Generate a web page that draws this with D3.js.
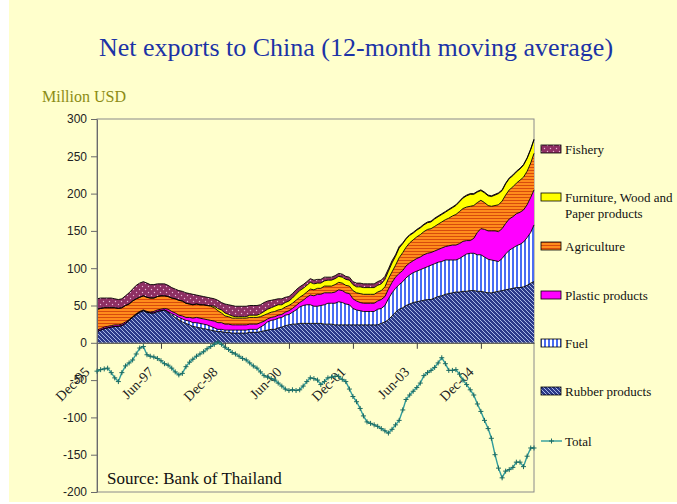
<!DOCTYPE html>
<html>
<head>
<meta charset="utf-8">
<script src="https://cdn.jsdelivr.net/npm/d3@7"></script>
<style>
  html, body { margin: 0; padding: 0; background: #ffffff; }
  svg { display: block; }
</style>
</head>
<body>
<svg id="chart" width="677" height="504"></svg>
<script>
// Monthly 12-month moving averages, Dec-95 onward (million USD)
const firstMonth = "1995-12";

const rubber = [
  15,17,19,20,21,22,22,23,26,30, 34,38,41,43,41,40,40,42,43,44,
  41,37,34,31,28,26,24,22,21,20, 19,18,17,16,15,15,14,14,13,13,
  13,13,13,14,14,14,15,16,17,18, 18,20,21,23,24,25,25,26,26,26,
  26,26,26,26,25,25,25,24,24,24, 24,24,24,24,24,24,24,24,24,24,
  26,28,31,36,41,45,47,50,52,54, 55,56,57,58,58,60,62,63,65,66,
  67,68,68,69,69,70,70,69,69,68, 67,67,68,69,70,71,72,73,74,74,
  75,77,80,82
];
const fuel = [
  0,0,0,0,0,0,0,0,0,0, 0,0,0,0,0,0,0,0,0,0,
  1,2,3,3,4,4,5,5,6,6, 6,6,5,4,3,3,3,3,4,4,
  4,4,4,4,4,4,6,8,11,12, 13,13,13,14,14,16,19,22,24,25,
  25,23,23,24,26,28,28,29,31,30, 28,27,22,20,19,18,18,18,18,21,
  20,22,28,31,32,33,35,37,39,40, 41,42,43,44,46,46,46,46,46,45,
  44,43,45,47,50,50,50,49,49,47, 45,44,42,40,43,48,52,54,56,58,
  60,64,68,76
];
const plastic = [
  2,2,2,2,2,2,2,2,2,1, 1,1,1,1,1,1,2,2,2,2,
  3,3,3,3,4,4,5,6,7,7, 7,7,8,9,9,9,8,8,7,7,
  7,7,7,7,7,7,6,5,4,4, 4,4,4,4,5,5,6,6,7,10,
  13,14,16,15,16,14,14,15,16,16, 15,15,13,12,11,11,11,11,11,11,
  12,12,13,14,15,15,15,16,16,16, 17,17,18,18,17,17,17,18,18,19,
  20,20,20,20,18,17,20,30,35,37, 38,39,40,40,40,41,42,42,43,43,
  43,44,47,47
];
const agriculture = [
  28,27,26,25,24,23,22,22,22,21, 21,20,19,19,19,19,18,18,18,17,
  17,18,19,20,20,19,18,18,18,18, 19,19,19,18,16,13,11,10,9,9,
  9,9,9,9,9,9,8,8,7,7, 7,7,7,7,7,7,7,7,7,7,
  8,8,8,8,9,9,9,10,10,10, 10,10,11,11,12,12,12,12,12,12,
  12,13,14,14,16,21,24,25,27,28, 29,30,31,32,32,33,34,35,36,37,
  39,41,43,44,45,46,44,40,38,36, 34,33,34,36,37,38,39,40,41,43,
  44,45,46,49
];
const furniture = [
  0,0,0,0,0,0,0,0,0,0, 0,0,0,0,0,0,0,0,0,0,
  0,0,0,0,0,0,0,0,0,0, 0,0,1,2,3,4,4,3,3,2,
  2,2,2,3,3,3,4,5,6,6, 7,7,6,6,6,7,8,9,9,9,
  9,8,7,7,7,8,8,8,8,8, 8,8,8,8,9,9,9,9,9,9,
  9,10,10,12,12,13,12,11,10,9, 9,9,9,9,9,10,10,10,10,11,
  11,12,13,14,15,16,15,14,13,13, 13,13,14,15,14,15,15,15,15,15,
  16,17,18,18
];
const fishery = [
  14,14,13,13,13,12,12,12,13,15, 16,18,19,19,19,18,18,17,16,16,
  15,14,13,13,13,14,14,14,12,12, 11,11,10,10,11,10,12,13,14,14,
  14,14,14,13,13,13,12,12,11,10, 9,8,8,7,6,6,6,5,5,5,
  5,5,5,5,5,4,4,4,4,4, 4,4,4,5,5,5,5,5,5,5,
  5,4,3,3,2,2,1,1,1,1, 1,1,1,1,1,1,1,1,1,1,
  1,1,1,1,1,1,1,1,1,1, 1,1,1,1,1,1,1,1,1,1,
  1,1,1,1
];
const total = [
  -38,-36,-35,-34,-40,-47,-52,-40,-31,-27, -23,-15,-7,-5,-16,-18,-19,-21,-24,-28,
  -30,-34,-39,-43,-41,-32,-26,-22,-18,-15, -12,-8,-5,-2,1,-2,-6,-9,-13,-15,
  -18,-21,-23,-27,-31,-34,-39,-44,-46,-48, -50,-54,-58,-62,-64,-63,-64,-63,-58,-52,
  -47,-48,-50,-56,-52,-47,-46,-45,-45,-49, -52,-62,-72,-79,-88,-98,-106,-108,-110,-112,
  -115,-118,-121,-116,-110,-104,-90,-76,-70,-65, -60,-54,-44,-40,-37,-33,-27,-20,-28,-37,
  -37,-36,-42,-50,-56,-63,-70,-82,-92,-104, -115,-128,-150,-168,-181,-172,-170,-167,-160,-160,
  -166,-152,-141,-141
];

const xTickLabels = ["Dec-95","Jun-97","Dec-98","Jun-00","Dec-01","Jun-03","Dec-04"];
const yTickValues = [-200,-150,-100,-50,0,50,100,150,200,250,300];

// stacking order, bottom to top
const layerKeys   = ["rubber","fuel","plastic","agriculture","furniture","fishery"];
const layerValues = { rubber, fuel, plastic, agriculture, furniture, fishery };
const legendItems = [
  { key: "fishery",     lines: ["Fishery"] },
  { key: "furniture",   lines: ["Furniture, Wood and", "Paper products"] },
  { key: "agriculture", lines: ["Agriculture"] },
  { key: "plastic",     lines: ["Plastic products"] },
  { key: "fuel",        lines: ["Fuel"] },
  { key: "rubber",      lines: ["Rubber products"] },
  { key: "total",       lines: ["Total"] }
];

// ---------------------------------------------------------------------------
const W = 677, H = 504;
const plot = { left: 97, right: 534, top: 119, bottom: 492 };
const bg = "#ffffcc";
const serif = "'Liberation Serif', 'Times New Roman', serif";
const sans = "'Liberation Sans', Arial, sans-serif";

const svg = d3.select("#chart");
const parseMonth = d3.timeParse("%Y-%m");
const start = parseMonth(firstMonth);
const months = total.map((_, i) => d3.timeMonth.offset(start, i));

const x = d3.scaleTime()
  .domain([start, d3.timeMonth.offset(start, total.length - 1)])
  .range([plot.left, plot.right]);
const y = d3.scaleLinear().domain([-200, 300]).range([plot.bottom, plot.top]);

// background
svg.append("rect").attr("width", W).attr("height", H).attr("fill", bg);
svg.append("rect").attr("x", 0).attr("y", 0).attr("width", 9).attr("height", H).attr("fill", "#ffffff");
svg.append("rect").attr("x", 0).attr("y", H - 2).attr("width", W).attr("height", 2).attr("fill", "#ffffff");

// fill patterns
const defs = svg.append("defs");
function pattern(id, w, h) {
  return defs.append("pattern").attr("id", id)
    .attr("patternUnits", "userSpaceOnUse").attr("width", w).attr("height", h);
}
let p = pattern("hatchRubber", 4, 4);
p.append("rect").attr("width", 4).attr("height", 4).attr("fill", "#2c3a8a");
p.append("path").attr("d", "M-1,3 l2,2 M0,0 l4,4 M3,-1 l2,2")
  .attr("stroke", "#a9b8e6").attr("stroke-width", 1);

p = pattern("stripeFuel", 4, 4);
p.append("rect").attr("width", 4).attr("height", 4).attr("fill", "#ffffff");
p.append("rect").attr("width", 2).attr("height", 4).attr("fill", "#4a6cf2");

p = pattern("stripeAgri", 4, 3);
p.append("rect").attr("width", 4).attr("height", 3).attr("fill", "#ff8c1c");
p.append("rect").attr("y", 2).attr("width", 4).attr("height", 1).attr("fill", "#d84b0c");

p = pattern("dotsFishery", 6, 6);
p.append("rect").attr("width", 6).attr("height", 6).attr("fill", "#8e2f63");
p.append("circle").attr("cx", 1.5).attr("cy", 1.5).attr("r", 0.7).attr("fill", "#e9b6d6");
p.append("circle").attr("cx", 4.5).attr("cy", 4.5).attr("r", 0.7).attr("fill", "#e9b6d6");

const fills = {
  rubber: "url(#hatchRubber)",
  fuel: "url(#stripeFuel)",
  plastic: "#ff00ff",
  agriculture: "url(#stripeAgri)",
  furniture: "#ffff00",
  fishery: "url(#dotsFishery)"
};

// plot frame
svg.append("rect")
  .attr("x", plot.left).attr("y", plot.top)
  .attr("width", plot.right - plot.left).attr("height", plot.bottom - plot.top)
  .attr("fill", bg).attr("stroke", "#8a8a8a").attr("stroke-width", 1);

// stacked areas
const rows = months.map((m, i) => {
  const r = { date: m };
  layerKeys.forEach(k => r[k] = layerValues[k][i]);
  return r;
});
const stacked = d3.stack().keys(layerKeys)(rows);

const area = d3.area()
  .x(d => x(d.data.date))
  .y0(d => y(d[0]))
  .y1(d => y(d[1]));
const topLine = d3.line()
  .x(d => x(d.data.date))
  .y(d => y(d[1]));

const gAreas = svg.append("g");
gAreas.selectAll("path.layer").data(stacked).join("path")
  .attr("class", "layer")
  .attr("d", area)
  .attr("fill", d => fills[d.key]);
gAreas.selectAll("path.edge").data(stacked).join("path")
  .attr("class", "edge")
  .attr("d", topLine)
  .attr("fill", "none")
  .attr("stroke", "#000000")
  .attr("stroke-width", 0.9);

// category axis along zero
const tickDates = xTickLabels.map(d3.timeParse("%b-%y"));
const gx = svg.append("g").attr("transform", `translate(0,${y(0)})`)
  .call(d3.axisBottom(x).tickValues(tickDates).tickSize(6).tickSizeOuter(0)
    .tickFormat((d, i) => xTickLabels[i]));
gx.select(".domain").attr("stroke", "#404040");
gx.selectAll(".tick line").attr("stroke", "#404040");
gx.selectAll(".tick text")
  .attr("x", 0).attr("y", 0).attr("dy", 0)
  .attr("text-anchor", "end")
  .attr("transform", "translate(-7,30) rotate(-45)")
  .attr("font-family", serif)
  .attr("font-size", 14)
  .attr("fill", "#222");

// value axis
const gy = svg.append("g").attr("transform", `translate(${plot.left},0)`)
  .call(d3.axisLeft(y).tickValues(yTickValues).tickSize(6).tickSizeOuter(0).tickPadding(4)
    .tickFormat(d => String(d)));
gy.select(".domain").attr("stroke", "#6a6a6a");
gy.selectAll(".tick line").attr("stroke", "#6a6a6a");
gy.selectAll(".tick text")
  .attr("font-family", sans)
  .attr("font-size", 12)
  .attr("fill", "#222");

// total net exports line
const lineColor = "#2f9c9c", markColor = "#1d6b62";
const plus = "M-2.5,0H2.5M0,-2.5V2.5";
const totalLine = d3.line().x((d, i) => x(months[i])).y(d => y(d));
svg.append("path").datum(total)
  .attr("d", totalLine)
  .attr("fill", "none").attr("stroke", lineColor).attr("stroke-width", 1.4);
svg.append("g").selectAll("path").data(total).join("path")
  .attr("d", plus)
  .attr("transform", (d, i) => `translate(${x(months[i])},${y(d)})`)
  .attr("stroke", markColor).attr("stroke-width", 1).attr("fill", "none");

// texts
svg.append("text")
  .attr("x", 356).attr("y", 56)
  .attr("text-anchor", "middle")
  .attr("font-family", serif).attr("font-size", 26)
  .attr("fill", "#1c33a6")
  .text("Net exports to China (12-month moving average)");

svg.append("text")
  .attr("x", 42).attr("y", 102)
  .attr("font-family", serif).attr("font-size", 16)
  .attr("fill", "#8c8c14")
  .text("Million USD");

svg.append("text")
  .attr("x", 107).attr("y", 484)
  .attr("font-family", serif).attr("font-size", 17)
  .attr("fill", "#111")
  .text("Source: Bank of Thailand");

// legend
const legendY = [149, 197, 246, 295, 343, 391, 441];
const gl = svg.append("g");
legendItems.forEach((item, i) => {
  const cy = legendY[i];
  const g = gl.append("g");
  if (item.key === "total") {
    g.append("line").attr("x1", 541).attr("x2", 562).attr("y1", cy).attr("y2", cy)
      .attr("stroke", lineColor).attr("stroke-width", 1.4);
    g.append("path").attr("d", plus).attr("transform", `translate(551.5,${cy})`)
      .attr("stroke", markColor).attr("stroke-width", 1);
  } else {
    g.append("rect").attr("x", 541).attr("y", cy - 4).attr("width", 20).attr("height", 8)
      .attr("fill", fills[item.key]).attr("stroke", "#000").attr("stroke-width", 0.8);
  }
  item.lines.forEach((t, j) => {
    g.append("text")
      .attr("x", 565).attr("y", cy + 4.5 + j * 16)
      .attr("font-family", serif).attr("font-size", 13)
      .attr("fill", "#111")
      .text(t);
  });
});
</script>
</body>
</html>
